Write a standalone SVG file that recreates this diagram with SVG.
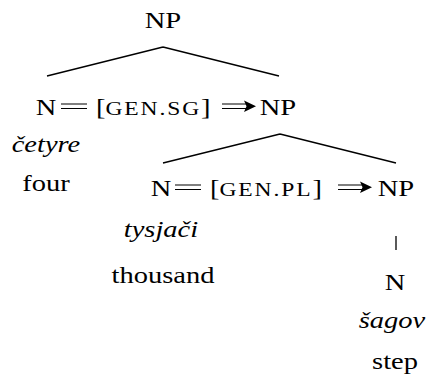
<svg xmlns="http://www.w3.org/2000/svg" width="430" height="379" viewBox="0 0 430 379">
<defs>
<path id="head" d="M0 0L-12 -5.7L-9.5 0L-12 5.8Z"/>
</defs>
<rect width="430" height="379" fill="#fff"/>
<g id="connectors" stroke="#000" stroke-width="1.3" fill="none">
<path d="M163 47L47 76M163 47L279 76"/>
<path d="M280 134L163 163M280 134L396 163"/>
<path d="M396 236V250"/>
</g>
<g id="tree" font-family="Liberation Serif, Times New Roman, serif" font-size="23" fill="#000">
<g id="np-top"><text text-anchor="middle" transform="translate(163 28) scale(1.24 1)">NP</text></g>
<g id="n1">
<text text-anchor="middle" transform="translate(46 115) scale(1.24 1)">N</text>
<path stroke="#000" stroke-width="1.2" d="M61 104H87M61 108.5H87"/>
<text transform="translate(96 115) scale(1.24 1)">[<tspan font-size="19" letter-spacing="1.5">GEN.SG</tspan>]</text>
<path stroke="#000" stroke-width="1.2" d="M222 104H248M222 108.5H248"/>
<use href="#head" x="256" y="106.2"/>
</g>
<g id="np1"><text text-anchor="middle" transform="translate(278 115) scale(1.24 1)">NP</text></g>
<g id="cetyre"><text text-anchor="middle" font-style="italic" transform="translate(46 152) scale(1.24 1)">četyre</text><text text-anchor="middle" transform="translate(46 191) scale(1.24 1)">four</text></g>
<g id="n2">
<text text-anchor="middle" transform="translate(161 196) scale(1.24 1)">N</text>
<path stroke="#000" stroke-width="1.2" d="M175 185H201M175 189.5H201"/>
<text transform="translate(210 196) scale(1.24 1)">[<tspan font-size="19" letter-spacing="1.5">GEN.PL</tspan>]</text>
<path stroke="#000" stroke-width="1.2" d="M338 185H364M338 189.5H364"/>
<use href="#head" x="372" y="187.2"/>
</g>
<g id="np2"><text text-anchor="middle" transform="translate(396 196) scale(1.24 1)">NP</text></g>
<g id="tysjaci"><text text-anchor="middle" font-style="italic" transform="translate(161 237) scale(1.24 1)">tysjači</text><text text-anchor="middle" transform="translate(163 283) scale(1.24 1)">thousand</text></g>
<g id="n3"><text text-anchor="middle" transform="translate(395 290) scale(1.24 1)">N</text><text text-anchor="middle" font-style="italic" transform="translate(392 328) scale(1.24 1)">šagov</text><text text-anchor="middle" transform="translate(395 369) scale(1.24 1)">step</text></g>
</g>
</svg>
